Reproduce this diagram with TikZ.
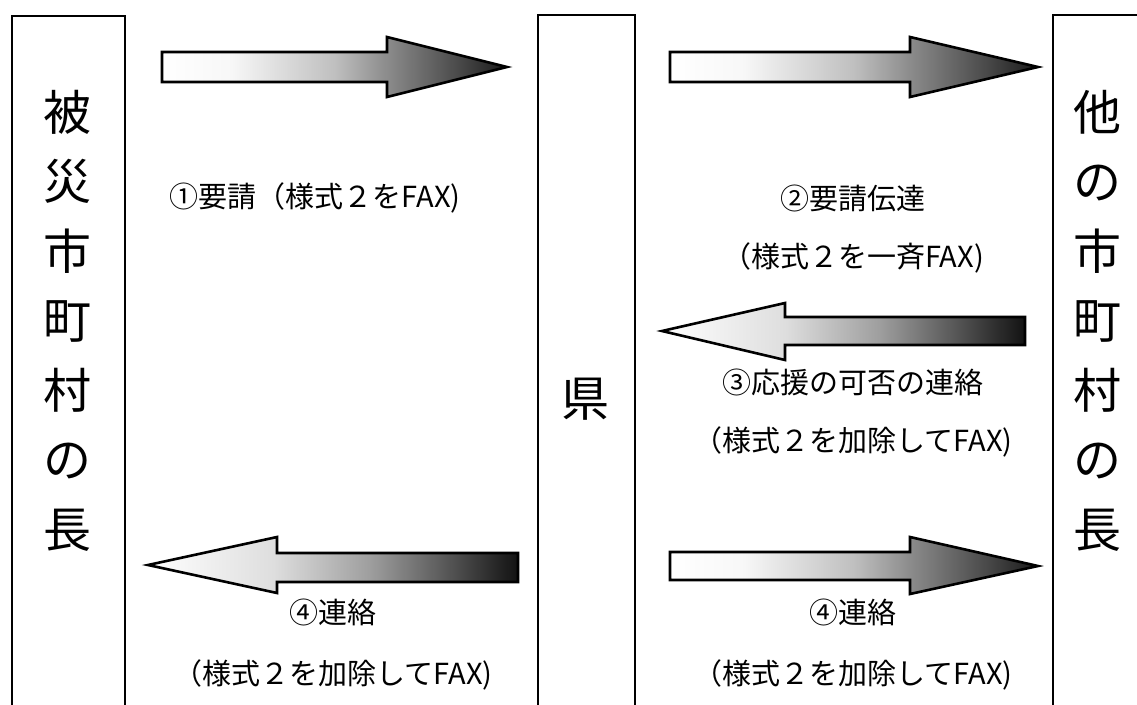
\documentclass[tikz,border=0pt]{standalone}
\usepackage{fontspec}
\setmainfont{Noto Sans CJK JP}
\newfontfamily\jp{Noto Sans CJK JP}
% TikZ maps the path's bounding box onto 25bp..75bp of a 100bp shading
\pgfdeclarehorizontalshading{toright}{100bp}{color(0bp)=(white); color(25bp)=(white); color(35bp)=(white!97!black); color(50bp)=(white!75!black); color(57.5bp)=(white!55!black); color(67.5bp)=(white!30!black); color(75bp)=(black!90); color(100bp)=(black!90)}
\pgfdeclarehorizontalshading{toleft}{100bp}{color(0bp)=(white); color(25bp)=(white); color(42bp)=(white!87!black); color(55bp)=(white!62!black); color(65bp)=(white!35!black); color(75bp)=(black!93); color(100bp)=(black!93)}
\tikzset{
  colbox/.style={draw=black, line width=1.6pt, anchor=north west, inner sep=0pt},
  rarrow/.style={draw=black, line width=2.6pt, line join=miter, shading=toright},
  larrow/.style={draw=black, line width=2.6pt, line join=miter, shading=toleft},
  lbl/.style={font=\jp\fontsize{29}{34}\selectfont, inner sep=0pt, anchor=center},
  vlbl/.style={font=\jp\fontsize{48}{69.5}\selectfont, inner sep=0pt, align=center, anchor=north},
}
\begin{document}
\begin{tikzpicture}[x=1pt,y=-1pt]
\useasboundingbox (0,0) rectangle (1137,704);
\fill[white] (0,0) rectangle (1137,704);
\begin{scope}
\clip (0,0) rectangle (1137,704);
% column boxes (open at the bottom edge)
\node[colbox, minimum width=113pt, minimum height=720pt] (lbox) at (11,15) {};
\node[colbox, minimum width=97pt, minimum height=720pt] (mbox) at (537,14) {};
\node[colbox, minimum width=120pt, minimum height=720pt] (rbox) at (1052,14) {};
\end{scope}
% vertical labels
\node[vlbl] (ltxt) at (67,90) {被\\災\\市\\町\\村\\の\\長};
\node[vlbl] (rtxt) at (1097,90) {他\\の\\市\\町\\村\\の\\長};
\node[lbl, font=\jp\fontsize{48}{48}\selectfont] (ken) at (585,399) {県};
% arrows
\path[rarrow] (162,52) -- (387,52) -- (387,37) -- (507,67) -- (387,97) -- (387,82) -- (162,82) -- cycle;
\path[rarrow] (670,52) -- (910,52) -- (910,37) -- (1038,67) -- (910,97) -- (910,82) -- (670,82) -- cycle;
\path[larrow] (662,331) -- (785,303) -- (785,317) -- (1025,317) -- (1025,345) -- (785,345) -- (785,360) -- cycle;
\path[larrow] (148,565) -- (277,537) -- (277,553) -- (518,553) -- (518,582) -- (277,582) -- (277,593) -- cycle;
\path[rarrow] (670,552) -- (910,552) -- (910,537) -- (1038,566) -- (910,594) -- (910,580) -- (670,580) -- cycle;
% labels
\node[lbl] (t1) at (315,198) {①要請（様式２をFAX)};
\node[lbl] (t2a) at (853,198) {②要請伝達};
\node[lbl] (t2b) at (853,258) {（様式２を一斉FAX)};
\node[lbl] (t3a) at (853,382) {③応援の可否の連絡};
\node[lbl] (t3b) at (853,442) {（様式２を加除してFAX)};
\node[lbl] (t4a) at (333,612) {④連絡};
\node[lbl] (t4b) at (333,675) {（様式２を加除してFAX)};
\node[lbl] (t5a) at (853,612) {④連絡};
\node[lbl] (t5b) at (853,675) {（様式２を加除してFAX)};
\end{tikzpicture}
\end{document}
